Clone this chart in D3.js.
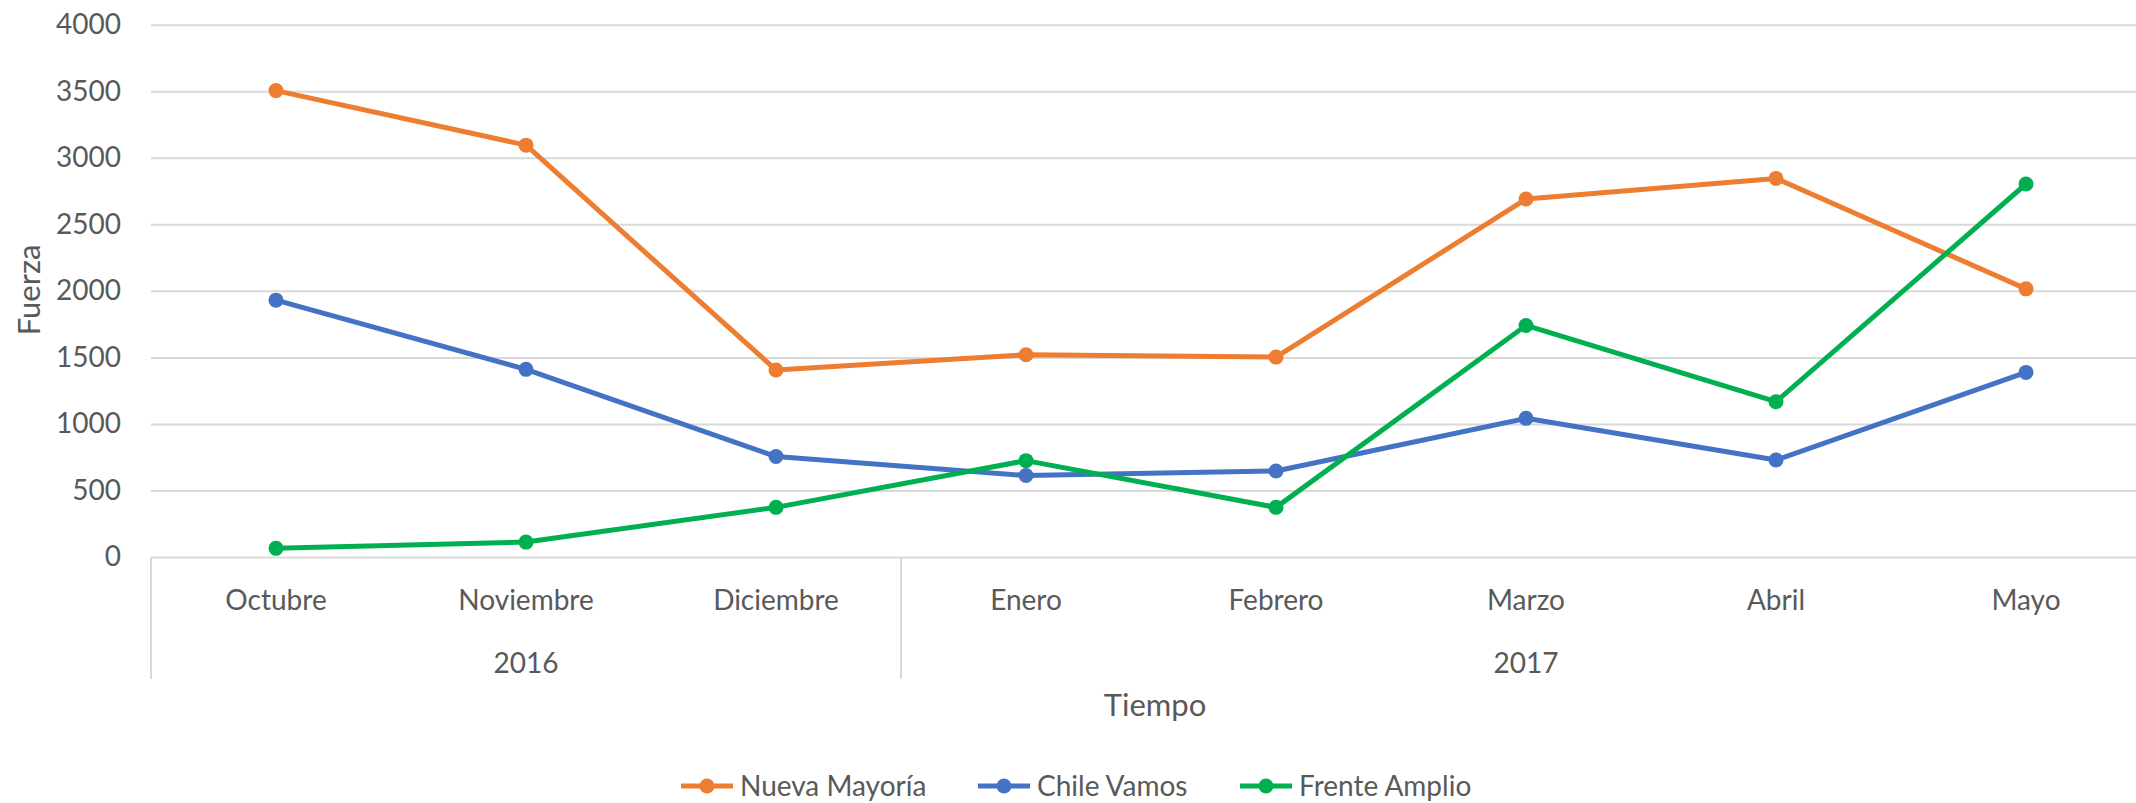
<!DOCTYPE html>
<html>
<head>
<meta charset="utf-8">
<script src="https://cdn.jsdelivr.net/npm/d3@7/dist/d3.min.js"></script>
<style>
  body { margin: 0; background: #fff; }
  text { font-family: Lato, "Open Sans", sans-serif; fill: #595959; }
</style>
</head>
<body>
<script>
// chart data
var months = ["Octubre", "Noviembre", "Diciembre", "Enero", "Febrero", "Marzo", "Abril", "Mayo"];
var years = [{label: "2016", from: 0, to: 2}, {label: "2017", from: 3, to: 7}];
var yTicks = [0, 500, 1000, 1500, 2000, 2500, 3000, 3500, 4000];
var seriesNames = ["Nueva Mayoría", "Chile Vamos", "Frente Amplio"];
var nuevaMayoria = [3505, 3095, 1405, 1520, 1502, 2690, 2845, 2015];
var chileVamos = [1930, 1410, 755, 612, 646, 1042, 729, 1387];
var frenteAmplio = [65, 112, 373, 724, 373, 1740, 1167, 2803];
var colors = ["#ED7D31", "#4472C4", "#00B050"];

var series = [nuevaMayoria, chileVamos, frenteAmplio];

var W = 2136, H = 803;
var margin = {left: 151, top: 24.7, right: -15}; // plot runs a little past the right edge
var plotBottom = 557;

var svg = d3.select("body").append("svg")
    .attr("width", W)
    .attr("height", H);

var x = d3.scaleBand()
    .domain(months)
    .range([margin.left, W - margin.right]);

var y = d3.scaleLinear()
    .domain([0, 4000])
    .range([plotBottom, margin.top]);

//gridlines + tick labels
var yAxis = svg.append("g")
    .attr("transform", "translate(" + margin.left + ",0)")
    .call(d3.axisLeft(y).tickValues(yTicks).tickFormat(d3.format("d"))
        .tickSize(-(W - margin.right - margin.left)).tickPadding(30));
yAxis.select(".domain").remove();
yAxis.selectAll(".tick line").attr("stroke", "#d9d9d9").attr("stroke-width", 2);
yAxis.selectAll(".tick text")
    .style("font-size", "28px")
    .attr("fill", "#595959");

//category axis: separators between years
var catBottom = 679;
var seps = [0, 3, 8];
svg.selectAll(".sep").data(seps).enter().append("line")
    .attr("class", "sep")
    .attr("x1", function(d) { return d < months.length ? x(months[d]) : x.range()[1]; })
    .attr("x2", function(d) { return d < months.length ? x(months[d]) : x.range()[1]; })
    .attr("y1", plotBottom)
    .attr("y2", catBottom)
    .attr("stroke", "#d9d9d9")
    .attr("stroke-width", 2);

svg.selectAll(".month").data(months).enter().append("text")
    .attr("class", "month")
    .attr("x", function(d) { return x(d) + x.bandwidth() / 2; })
    .attr("y", 610)
    .attr("text-anchor", "middle")
    .style("font-size", "28px")
    .text(function(d) { return d; });

svg.selectAll(".year").data(years).enter().append("text")
    .attr("class", "year")
    .attr("x", function(d) { return (x(months[d.from]) + x(months[d.to]) + x.bandwidth()) / 2; })
    .attr("y", 673)
    .attr("text-anchor", "middle")
    .style("font-size", "28px")
    .text(function(d) { return d.label; });

//axis titles
svg.append("text")
    .attr("x", 1155)
    .attr("y", 716)
    .attr("text-anchor", "middle")
    .style("font-size", "31px")
    .text("Tiempo");

svg.append("text")
    .attr("transform", "translate(40,290) rotate(-90)")
    .attr("text-anchor", "middle")
    .style("font-size", "31px")
    .text("Fuerza");

//lines
var line = d3.line()
    .x(function(d, i) { return x(months[i]) + x.bandwidth() / 2; })
    .y(function(d) { return y(d); });

series.forEach(function(s, k) {
  var g = svg.append("g");
  g.append("path")
      .datum(s)
      .attr("d", line)
      .attr("fill", "none")
      .attr("stroke", colors[k])
      .attr("stroke-width", 5)
      .attr("stroke-linejoin", "round");
  g.selectAll("circle").data(s).enter().append("circle")
      .attr("cx", function(d, i) { return x(months[i]) + x.bandwidth() / 2; })
      .attr("cy", function(d) { return y(d); })
      .attr("r", 7.5)
      .attr("fill", colors[k]);
});

//legend
var legendX = [681, 978, 1240];
var legend = svg.selectAll(".legend").data(seriesNames).enter().append("g")
    .attr("class", "legend")
    .attr("transform", function(d, i) { return "translate(" + legendX[i] + ",786)"; });
legend.append("line")
    .attr("x1", 0).attr("x2", 52)
    .attr("stroke", function(d, i) { return colors[i]; })
    .attr("stroke-width", 5);
legend.append("circle")
    .attr("cx", 26).attr("r", 7.5)
    .attr("fill", function(d, i) { return colors[i]; });
legend.append("text")
    .attr("x", 59)
    .attr("y", 10)
    .style("font-size", "28px")
    .text(function(d) { return d; });
</script>
</body>
</html>
